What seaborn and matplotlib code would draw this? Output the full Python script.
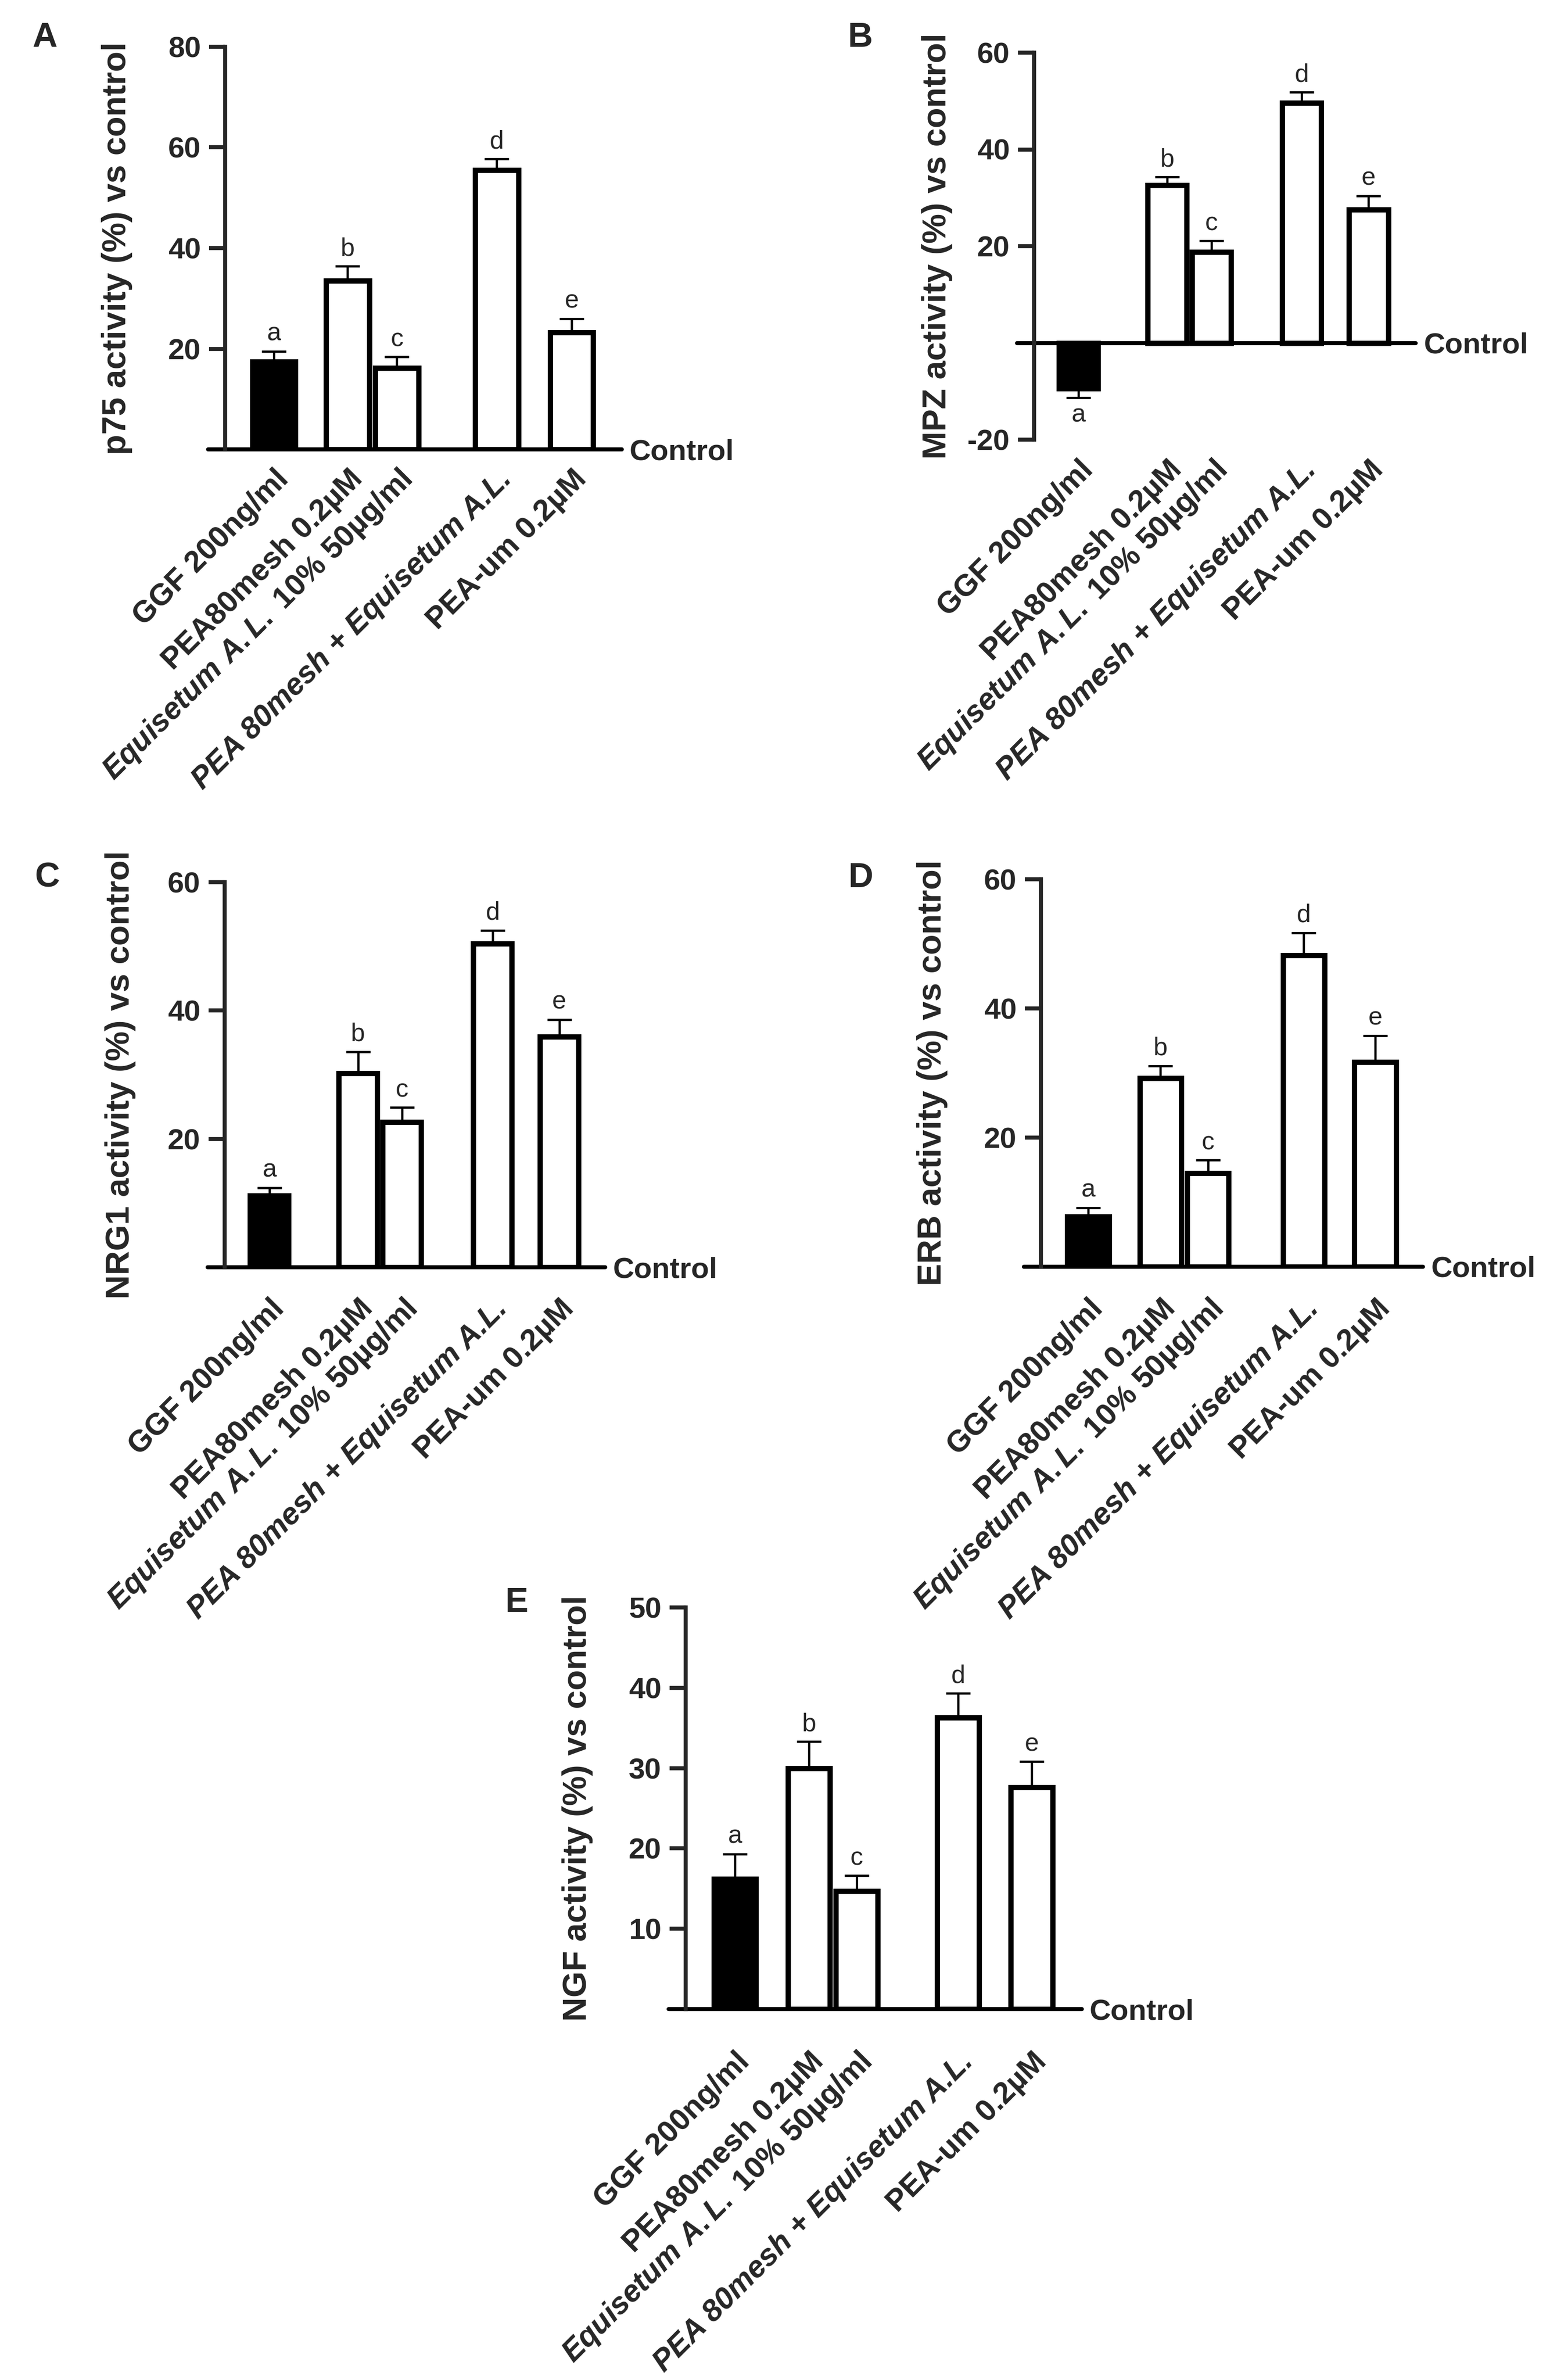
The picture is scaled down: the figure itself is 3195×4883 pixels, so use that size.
import numpy as np
import matplotlib
matplotlib.use("Agg")
import matplotlib.pyplot as plt
import seaborn as sns

# x tick labels (same five treatments in every panel)
treatments = ["GGF 200ng/ml", "PEA80mesh 0.2µM",
              r"$\mathit{Equisetum\ A.L.}$ 10% 50µg/ml",
              "PEA 80mesh + Equisetum A.L.", "PEA-um 0.2µM"]
sig_letters = ["a", "b", "c", "d", "e"]

# mean and SEM, % activity vs control
p75_mean = [17.4, 33.5, 16.2, 55.5, 23.2]
p75_sem = [2.1, 2.9, 2.2, 2.2, 2.8]
mpz_mean = [-9.4, 32.6, 18.8, 49.6, 27.6]
mpz_sem = [1.9, 1.7, 2.3, 2.2, 2.8]
nrg1_mean = [11.2, 30.2, 22.6, 50.4, 35.9]
nrg1_sem = [1.2, 3.4, 2.3, 2.1, 2.7]
erb_mean = [7.8, 29.2, 14.5, 48.2, 31.7]
erb_sem = [1.35, 1.9, 2.0, 3.5, 4.1]
ngf_mean = [16.2, 30.0, 14.7, 36.3, 27.6]
ngf_sem = [3.1, 3.3, 1.9, 3.0, 3.2]

sns.set_style("ticks")
plt.rcParams["font.family"] = ["Liberation Sans", "DejaVu Sans"]
plt.rcParams["mathtext.fontset"] = "custom"
plt.rcParams["mathtext.it"] = "Liberation Sans:italic:bold"
plt.rcParams["mathtext.rm"] = "Liberation Sans:bold"
plt.rcParams["mathtext.bf"] = "Liberation Sans:bold"

W, H, DPI = 3195, 4883, 300
PX = 72 / DPI          # points per pixel
fig = plt.figure(figsize=(W / DPI, H / DPI), dpi=DPI)

# layout per panel: axes box in pixels (left, right, top, bottom), bar positions
panels = [
    dict(tag="A", tag_xy=(66, 96), ylabel="p75 activity (%) vs control",
         mean=p75_mean, sem=p75_sem, box=(462, 1276, 96, 922),
         xpos=[0, 1.5, 2.5, 4.53, 6.05], xlim=(-0.99, 7.07),
         ylim=(0, 80), yticks=[20, 40, 60, 80], lab_off=-190, xpad=31),
    dict(tag="B", tag_xy=(1739, 96), ylabel="MPZ activity (%) vs control",
         mean=mpz_mean, sem=mpz_sem, box=(2122, 2905, 108, 902),
         xpos=[0, 2.0, 3.0, 5.03, 6.54], xlim=(-1.0, 7.6),
         ylim=(-20, 60), yticks=[-20, 20, 40, 60], lab_off=-167, xpad=32),
    dict(tag="C", tag_xy=(71, 1820), ylabel="NRG1 activity (%) vs control",
         mean=nrg1_mean, sem=nrg1_sem, box=(461, 1242, 1810, 2600),
         xpos=[0, 2.02, 3.02, 5.09, 6.61], xlim=(-1.02, 7.66),
         ylim=(0, 60), yticks=[20, 40, 60], lab_off=-182, xpad=55),
    dict(tag="D", tag_xy=(1740, 1820), ylabel="ERB activity (%) vs control",
         mean=erb_mean, sem=erb_sem, box=(2136, 2920, 1804, 2599),
         xpos=[0, 1.53, 2.53, 4.56, 6.07], xlim=(-1.0, 7.08),
         ylim=(0, 60), yticks=[20, 40, 60], lab_off=-191, xpad=56),
    dict(tag="E", tag_xy=(1036, 3307), ylabel="NGF activity (%) vs control",
         mean=ngf_mean, sem=ngf_sem, box=(1407, 2220, 3298, 4122),
         xpos=[0, 1.55, 2.55, 4.68, 6.22], xlim=(-1.03, 7.27),
         ylim=(0, 50), yticks=[10, 20, 30, 40, 50], lab_off=-190, xpad=78),
]

for p in panels:
    l, r, t, b = p["box"]
    wpx = r - l
    ax = fig.add_axes([l / W, 1 - b / H, wpx / W, (b - t) / H])
    ax.patch.set_visible(False)

    sns.barplot(x=p["xpos"], y=p["mean"], native_scale=True, orient="x",
                width=0.88, color="white", saturation=1, edgecolor="black",
                linewidth=2.6, errorbar=None, ax=ax, zorder=2)
    ax.patches[0].set_facecolor("black")

    mean = np.array(p["mean"])
    sem = np.array(p["sem"])
    lo = np.where(mean < 0, sem, 0)
    hi = np.where(mean < 0, 0, sem)
    ax.errorbar(p["xpos"], mean, yerr=[lo, hi], fmt="none", ecolor="black",
                elinewidth=1.1, capsize=6.1, capthick=1.1, zorder=1)

    for xi, m, s, let in zip(p["xpos"], mean, sem, sig_letters):
        if m >= 0:
            ax.annotate(let, (xi, m + s), xytext=(0, 22 * PX),
                        textcoords="offset points", ha="center",
                        va="baseline", fontsize=12.5)
        else:
            ax.annotate(let, (xi, m - s), xytext=(0, -50 * PX),
                        textcoords="offset points", ha="center",
                        va="baseline", fontsize=12.5)

    ax.set_xlim(p["xlim"])
    ax.set_ylim(p["ylim"])
    sns.despine(ax=ax, bottom=True)
    ax.spines["left"].set_linewidth(2)

    ax.set_yticks(p["yticks"])
    ax.set_yticklabels([str(v) for v in p["yticks"]], fontsize=14.5,
                       fontweight="bold")
    ax.tick_params(axis="y", length=33 * PX, width=2, pad=17 * PX)

    ax.set_xticks(p["xpos"])
    ax.set_xticklabels(treatments, rotation=45, ha="right",
                       rotation_mode="anchor", fontsize=15,
                       fontweight="bold")
    ax.get_xticklabels()[3].set_fontstyle("italic")
    ax.tick_params(axis="x", length=0, pad=p["xpad"] * PX)
    ax.set_xlabel("")

    # control line at 0
    ax.axhline(0, xmin=-35 / wpx, xmax=1, color="black", lw=2,
               clip_on=False, zorder=1.5)
    ax.annotate("Control", xy=(1, 0), xycoords=("axes fraction", "data"),
                xytext=(16 * PX, -21 * PX), textcoords="offset points",
                ha="left", va="baseline", fontsize=14.5, fontweight="bold")

    ax.set_ylabel(p["ylabel"], fontsize=16.5, fontweight="bold")
    ax.yaxis.set_label_coords(p["lab_off"] / wpx, 0.5)

    tx, ty = p["tag_xy"]
    fig.text(tx / W, 1 - ty / H, p["tag"], fontsize=17, fontweight="bold",
             ha="left", va="baseline")

fig.savefig("out.png", dpi=DPI)
